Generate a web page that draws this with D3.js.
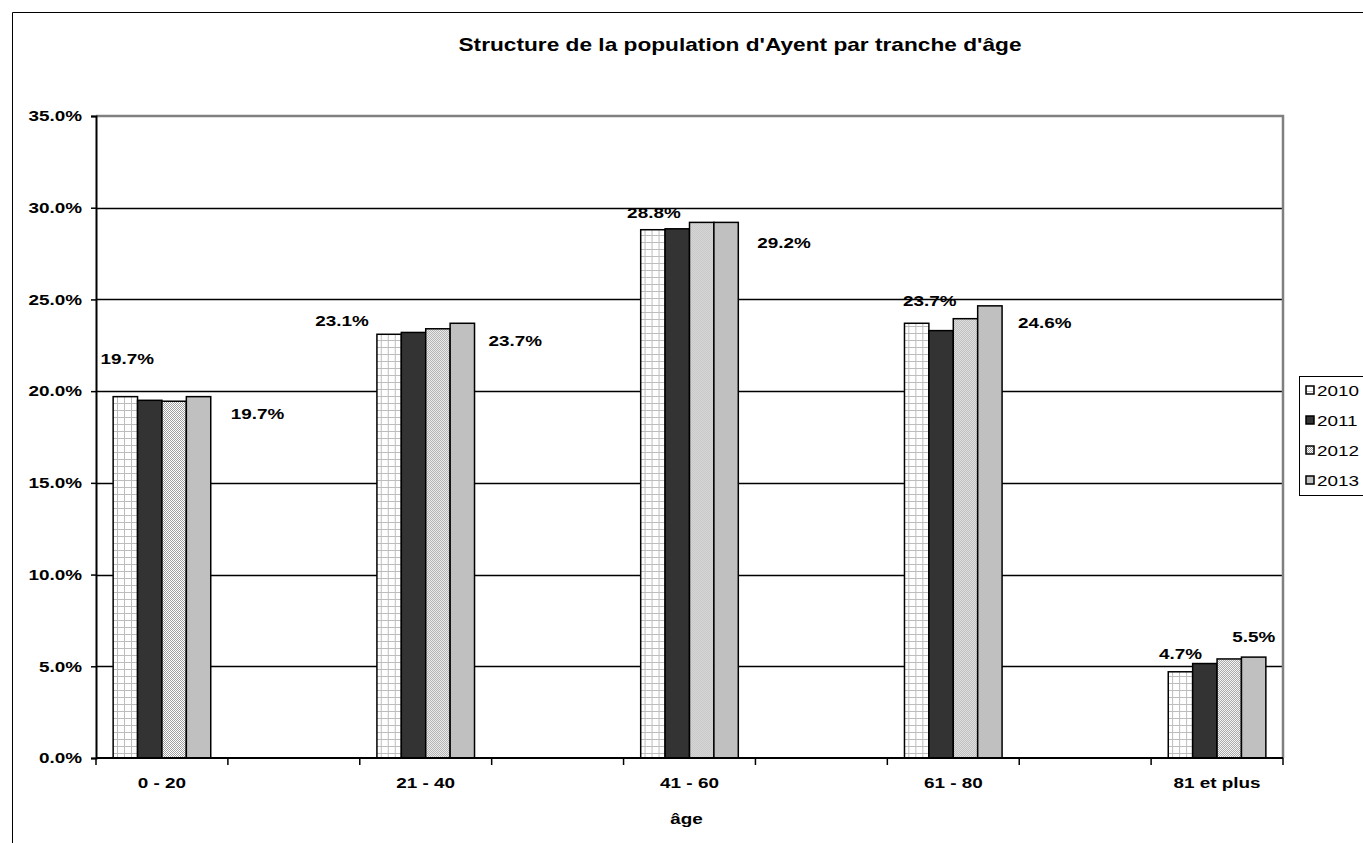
<!DOCTYPE html>
<html>
<head>
<meta charset="utf-8">
<script src="https://cdn.jsdelivr.net/npm/d3@7"></script>
<style>
body { margin:0; background:#fff; }
text { font-family: Arial, "Liberation Sans", sans-serif; fill:#000; }
</style>
</head>
<body>
<script>
// age groups (blank slots between them, as in the original sheet)
var categories = ['0 - 20', '', '21 - 40', '', '41 - 60', '', '61 - 80', '', '81 et plus']
var years = ['2010', '2011', '2012', '2013']
var yTicks = [0, 5, 10, 15, 20, 25, 30, 35]

// share of population in %, one array per year
var v2010 = [19.7, null, 23.1, null, 28.8, null, 23.7, null, 4.7]
var v2011 = [19.5, null, 23.2, null, 28.85, null, 23.3, null, 5.15]
var v2012 = [19.45, null, 23.4, null, 29.2, null, 23.95, null, 5.4]
var v2013 = [19.7, null, 23.7, null, 29.2, null, 24.65, null, 5.5]
var series = [v2010, v2011, v2012, v2013]

var W = 1363, H = 843
var margin = {left:96, right:80, top:116, bottom:85}
var width = W - margin.left - margin.right
var height = H - margin.top - margin.bottom
var SX = 1.26 // the original text looks stretched sideways

var svg = d3.select('body').append('svg')
    .attr('width', W)
    .attr('height', H)

// put a text at x,y with the sideways stretch
function wideText(parent, x, y, str, size, bold, anchor){
    return parent.append('text')
        .attr('transform', 'translate(' + x + ',' + y + ') scale(' + SX + ',1)')
        .attr('text-anchor', anchor || 'middle')
        .style('font-size', size + 'px')
        .style('font-weight', bold ? 'bold' : 'normal')
        .text(str)
}

// patterns
var defs = svg.append('defs')
var grid = defs.append('pattern')
    .attr('id', 'pGrid')
    .attr('patternUnits', 'userSpaceOnUse')
    .attr('width', 7).attr('height', 7)
grid.append('rect').attr('width', 7).attr('height', 7).attr('fill', '#fff')
grid.append('path').attr('d', 'M0,0.5H7M0.5,0V7').attr('stroke', '#bdbdbd').attr('stroke-width', 1)

var dots = defs.append('pattern')
    .attr('id', 'pDots')
    .attr('patternUnits', 'userSpaceOnUse')
    .attr('width', 2).attr('height', 2)
dots.append('rect').attr('width', 2).attr('height', 2).attr('fill', '#fff')
dots.append('rect').attr('width', 1).attr('height', 1).attr('fill', '#a0a0a0')
dots.append('rect').attr('x', 1).attr('y', 1).attr('width', 1).attr('height', 1).attr('fill', '#a0a0a0')

var fills = ['url(#pGrid)', '#333333', 'url(#pDots)', '#c0c0c0']

// outer chart border (left and top only visible)
svg.append('path')
    .attr('d', 'M12.5,' + H + 'V12.5H' + W)
    .attr('fill', 'none')
    .attr('stroke', '#000')
    .attr('stroke-width', 1)

wideText(svg, 740, 51, "Structure de la population d'Ayent par tranche d'âge", 18, true)

var x = d3.scaleBand()
    .domain(d3.range(categories.length))
    .range([0, width])

var x1 = d3.scaleBand()
    .domain(d3.range(years.length))
    .range([x.bandwidth() * 0.13, x.bandwidth() * 0.87])

var y = d3.scaleLinear()
    .domain([0, 35])
    .range([height, 0])

var chart = svg.append('g')
    .attr('transform', 'translate(' + margin.left + ',' + margin.top + ')')

// gridlines
chart.append('g')
    .selectAll('line')
    .data(yTicks.filter(function(d){ return d > 0 && d < 35 }))
    .enter().append('line')
    .attr('x1', 0).attr('x2', width)
    .attr('y1', function(d){ return Math.round(y(d)) + 0.5 })
    .attr('y2', function(d){ return Math.round(y(d)) + 0.5 })
    .attr('stroke', '#000')
    .attr('stroke-width', 1.5)

// plot border top/right
chart.append('path')
    .attr('d', 'M0,0H' + width + 'V' + height)
    .attr('fill', 'none')
    .attr('stroke', '#808080')
    .attr('stroke-width', 2.5)

// bars
var groups = chart.selectAll('.cat')
    .data(categories)
    .enter().append('g')
    .attr('class', 'cat')
    .attr('transform', function(d, i){ return 'translate(' + x(i) + ',0)' })

groups.selectAll('rect')
    .data(function(d, i){
        return series.map(function(s, k){ return {k:k, v:s[i]} }).filter(function(e){ return e.v != null })
    })
    .enter().append('rect')
    .attr('x', function(d){ return x1(d.k) })
    .attr('width', x1.bandwidth())
    .attr('y', function(d){ return y(d.v) })
    .attr('height', function(d){ return height - y(d.v) })
    .attr('fill', function(d){ return fills[d.k] })
    .attr('stroke', '#000')
    .attr('stroke-width', 1.5)

// data labels for 2010 and 2013, nudged like in the original
var labelNudge2010 = [[2, -33], null, [-47, -8], null, [1, -12], null, [13, -17], null, [0, -13]]
var labelNudge2013 = [[59, 22], null, [53, 23], null, [58, 26], null, [55, 22], null, [0, -15]]

function addLabels(values, k, nudge){
    var g = chart.append('g')
    values.forEach(function(v, i){
        if (v == null) return
        wideText(g,
            x(i) + x1(k) + x1.bandwidth() / 2 + nudge[i][0],
            y(v) + nudge[i][1],
            v.toFixed(1) + '%', 15, true)
    })
}
addLabels(v2010, 0, labelNudge2010)
addLabels(v2013, 3, labelNudge2013)

// y axis
var yAx = chart.append('g')
    .call(d3.axisLeft(y).tickValues(yTicks).tickSize(5).tickPadding(8)
        .tickFormat(function(d){ return d.toFixed(1) + '%' }))
yAx.select('.domain').attr('stroke', '#000').attr('stroke-width', 2)
yAx.selectAll('.tick line').attr('stroke-width', 1.5)
yAx.selectAll('text')
    .attr('font-family', null)
    .attr('font-size', null)
    .style('font-size', '15px')
    .style('font-weight', 'bold')
    .attr('x', -14 / SX)
    .attr('transform', 'scale(' + SX + ',1)')

// x axis
var xAx = chart.append('g')
    .attr('transform', 'translate(0,' + height + ')')
xAx.append('line')
    .attr('x1', 0).attr('x2', width)
    .attr('stroke', '#000').attr('stroke-width', 2)
xAx.selectAll('.tk')
    .data(d3.range(categories.length + 1))
    .enter().append('line')
    .attr('x1', function(d){ return d * x.step() })
    .attr('x2', function(d){ return d * x.step() })
    .attr('y1', 0).attr('y2', 7)
    .attr('stroke', '#000').attr('stroke-width', 1.5)
categories.forEach(function(c, i){
    if (c) wideText(xAx, x(i) + x.bandwidth() / 2, 30, c, 15, true)
})

wideText(svg, margin.left + width / 2 - 3, 824, 'âge', 15, true)

// legend
var legend = svg.append('g').attr('transform', 'translate(1299,376)')
legend.append('rect')
    .attr('x', 0.5).attr('y', 0.5)
    .attr('width', 80).attr('height', 119)
    .attr('fill', '#fff').attr('stroke', '#000').attr('stroke-width', 1)
var items = legend.selectAll('.it')
    .data(years)
    .enter().append('g')
    .attr('transform', function(d, i){ return 'translate(7,' + (15 + i * 30) + ')' })
items.append('rect')
    .attr('x', 0).attr('y', -5)
    .attr('width', 8).attr('height', 8)
    .attr('fill', function(d, i){ return fills[i] })
    .attr('stroke', '#000').attr('stroke-width', 1.5)
items.each(function(d){
    wideText(d3.select(this), 11, 5, d, 15, false, 'start')
})
</script>
</body>
</html>
